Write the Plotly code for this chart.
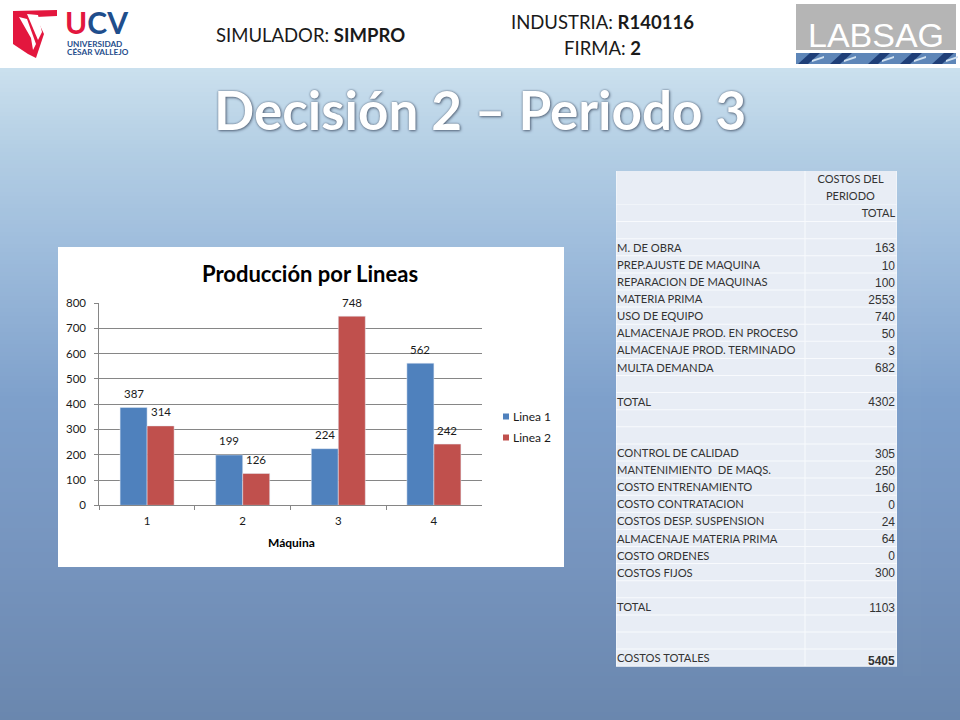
import plotly.graph_objects as go

W, H = 960, 720

# ---------- data ----------
maquinas = ["1", "2", "3", "4"]
linea_1 = [387, 199, 224, 562]
linea_2 = [314, 126, 748, 242]
y_ticks = [0, 100, 200, 300, 400, 500, 600, 700, 800]
series_nombres = ["Linea 1", "Linea 2"]

tabla_cabecera = ["COSTOS DEL", "PERIODO", "TOTAL"]
tabla_conceptos = [
    "", "M. DE OBRA", "PREP.AJUSTE DE MAQUINA", "REPARACION DE MAQUINAS", "MATERIA PRIMA",
    "USO DE EQUIPO", "ALMACENAJE PROD. EN PROCESO", "ALMACENAJE PROD. TERMINADO", "MULTA DEMANDA",
    "", "TOTAL", "", "", "CONTROL DE CALIDAD", "MANTENIMIENTO  DE MAQS.", "COSTO ENTRENAMIENTO",
    "COSTO CONTRATACION", "COSTOS DESP. SUSPENSION", "ALMACENAJE MATERIA PRIMA", "COSTO ORDENES",
    "COSTOS FIJOS", "", "TOTAL", "", "", "COSTOS TOTALES",
]
tabla_valores = [
    "", "163", "10", "100", "2553", "740", "50", "3", "682", "", "4302", "", "",
    "305", "250", "160", "0", "24", "64", "0", "300", "", "1103", "", "", "<b>5405</b>",
]

# ---------- style ----------
AZUL, ROJO = "#4F81BD", "#C0504D"
GRIS_EJE = "#868686"
FUENTE = "Lato"
gradiente = [(68, (203, 224, 238)), (150, (179, 206, 228)), (240, (160, 190, 221)),
             (400, (126, 160, 203)), (560, (118, 148, 190)), (720, (106, 135, 174))]
BAR_GAP = 0.435
FILA_H = 17.1
NBSP = "\u00a0"


def fx(px):
    return px / W


def fy(px):
    return 1 - px / H


def color_en(y):
    for (y0, c0), (y1, c1) in zip(gradiente, gradiente[1:]):
        if y <= y1:
            t = (y - y0) / (y1 - y0)
            return "rgb(%d,%d,%d)" % tuple(round(a + (b - a) * t) for a, b in zip(c0, c1))
    return "rgb(%d,%d,%d)" % gradiente[-1][1]


def rect(x0, y0, x1, y1, color):
    return dict(type="rect", xref="paper", yref="paper", layer="below", x0=fx(x0), x1=fx(x1),
                y0=fy(y0), y1=fy(y1), fillcolor=color, line_width=0)


def poly(puntos, color):
    ruta = "M " + " L ".join(f"{fx(x):.5f},{fy(y):.5f}" for x, y in puntos) + " Z"
    return dict(type="path", xref="paper", yref="paper", layer="below", path=ruta,
                fillcolor=color, line_width=0)


def texto(x, y, s, size, color="#1a1a1a", anchor="center", family=FUENTE, **kw):
    return dict(xref="paper", yref="paper", x=fx(x), y=fy(y), text=s, showarrow=False,
                xanchor=anchor, yanchor="middle", font=dict(family=family, size=size, color=color),
                **kw)


shapes = [rect(0, 0, W, H, "#ffffff")]
for y in range(68, H, 4):
    shapes.append(rect(0, y, W, min(y + 4.5, H), color_en(y + 2)))
shapes.append(rect(58, 247, 564, 567, "#ffffff"))

# Logo UCV
shapes += [
    poly([(13, 11), (57, 10), (57, 16), (36, 17), (44, 34), (36, 58), (28, 54), (13, 44)], "#E3173E"),
    poly([(19, 17), (27, 19), (36, 44), (33, 50), (31, 38)], "#ffffff"),
    poly([(27, 14), (38, 15), (42, 32), (38, 40)], "#ffffff"),
]
# Logo LABSAG
shapes.append(rect(796, 4, 956, 50, "#B5B5B5"))
shapes.append(rect(796, 53, 956, 64, "#5E86B8"))
for x0 in (798, 830, 868, 900, 932):
    shapes.append(poly([(x0, 64), (x0 + 12, 53), (x0 + 22, 53), (x0 + 10, 64)], "#1F3F78"))
    shapes.append(poly([(x0 + 14, 60), (x0 + 26, 56), (x0 + 26, 58), (x0 + 14, 62)], "#CFE0F0"))

# Cell backgrounds of the cost table
FILA_COLOR = "#E8EDF5"
TAB_X = (616, 805, 897)
TAB_TOP = 171
TAB_CAB = 205
n_filas = len(tabla_conceptos) + 1
TAB_FIN = TAB_CAB + n_filas * FILA_H
shapes.append(rect(TAB_X[0], TAB_TOP, TAB_X[-1], TAB_FIN, "#F8FAFD"))
for xa, xb in zip(TAB_X, TAB_X[1:]):
    shapes.append(rect(xa + 0.5, TAB_TOP, xb - 0.5, TAB_CAB - 0.5, FILA_COLOR))
    for i in range(n_filas):
        shapes.append(rect(xa + 0.5, TAB_CAB + i * FILA_H, xb - 0.5,
                           TAB_CAB + (i + 1) * FILA_H - 1, FILA_COLOR))

annotations = [
    texto(63, 22, "<b><span style='color:#E3173E'>U</span>CV</b>", 30, "#1F4E8C", "left"),
    texto(65, 43.5, "<b>UNIVERSIDAD</b>", 8.2, "#1F4E8C", "left"),
    texto(65, 52, "<b>CÉSAR VALLEJO</b>", 8.2, "#1F4E8C", "left"),
    texto(310, 35, "SIMULADOR: <b>SIMPRO</b>", 18.5),
    texto(602, 22, "INDUSTRIA: <b>R140116</b>", 18.5),
    texto(602, 48, "FIRMA: <b>2</b>", 18.5),
    texto(876, 35, "LABSAG", 34, "#ffffff", family="Liberation Sans"),
    dict(xref="paper", yref="paper", x=fx(480), y=fy(109), text="<b>Decisión 2 – Periodo 3</b>",
         showarrow=False, xanchor="center", yanchor="middle",
         font=dict(family=FUENTE, size=53, color="#ffffff",
                   shadow="0px 0px 2px #5c6c80, 1px 1px 3px #5c6c80")),
    texto(310, 273, "<b>Producción por Lineas</b>", 22, "#000000"),
    texto(291, 542, "<b>Máquina</b>", 12, "#000000"),
]

ancho_barra = (1 - BAR_GAP) / 2
for i, (a, b) in enumerate(zip(linea_1, linea_2)):
    for v, dx in ((a, -ancho_barra / 2), (b, ancho_barra / 2)):
        annotations.append(dict(xref="x", yref="y", x=i + dx, y=v, yshift=14, text=str(v),
                                showarrow=False, yanchor="middle",
                                font=dict(family=FUENTE, size=11.5, color="#1a1a1a")))

# Legend with the small square keys of the reference
for nombre, color, y in zip(series_nombres, (AZUL, ROJO), (416.5, 437.5)):
    shapes.append(rect(503, y - 3, 509, y + 3, color))
    annotations.append(texto(511, y, nombre, 12, "#1a1a1a", "left"))

fig = go.Figure()
fig.add_bar(x=maquinas, y=linea_1, name=series_nombres[0], marker_color=AZUL, cliponaxis=False)
fig.add_bar(x=maquinas, y=linea_2, name=series_nombres[1], marker_color=ROJO, cliponaxis=False)

# Column header: two centred lines and a right-hand "TOTAL"; no-break spaces nudge them sideways.
cab_col2 = [tabla_cabecera[0].replace(" ", NBSP) + NBSP * 4,
            tabla_cabecera[1] + NBSP * 4,
            NBSP * 16 + tabla_cabecera[2]]
fig.add_table(
    domain=dict(x=[fx(609), fx(903)], y=[fy(TAB_FIN + 10), fy(TAB_TOP - 4)]),
    columnwidth=[200, 94],
    header=dict(values=[["", "", ""], cab_col2], height=FILA_H, align="center",
                fill_color="rgba(0,0,0,0)", line=dict(color="rgba(0,0,0,0)", width=0),
                font=dict(family=FUENTE, size=11, color="#333333")),
    cells=dict(values=[tabla_conceptos, tabla_valores], height=FILA_H,
               align=["left", "right"], fill_color="rgba(0,0,0,0)",
               line=dict(color="rgba(0,0,0,0)", width=0),
               font=dict(family=[FUENTE, "Liberation Sans"], size=[11.2, 12], color="#333333")),
)

fig.update_layout(
    width=W, height=H, margin=dict(l=0, r=0, t=0, b=0, autoexpand=False), autosize=False,
    paper_bgcolor="rgba(0,0,0,0)", plot_bgcolor="rgba(0,0,0,0)",
    barmode="group", bargap=BAR_GAP, bargroupgap=0, showlegend=False,
    font=dict(family=FUENTE, color="#000000"),
    shapes=shapes, annotations=annotations,
    xaxis=dict(domain=[fx(99.3), fx(481.7)], type="category", tickson="boundaries", ticks="outside",
               ticklen=4, tickcolor=GRIS_EJE, showline=True, linecolor=GRIS_EJE, showgrid=False,
               ticklabelstandoff=5, tickfont=dict(family=FUENTE, size=11.5, color="#1a1a1a")),
    yaxis=dict(domain=[fy(505.3), fy(303)], range=[0, 800], tickvals=y_ticks, ticks="outside",
               ticklen=4, tickcolor=GRIS_EJE, showline=True, linecolor=GRIS_EJE, gridcolor=GRIS_EJE,
               gridwidth=1, zeroline=False, ticklabelstandoff=6,
               tickfont=dict(family=FUENTE, size=11.5, color="#1a1a1a")),
)

fig.write_html("out.html", post_script="document.body.style.margin='0';",
               config={"displayModeBar": False})
